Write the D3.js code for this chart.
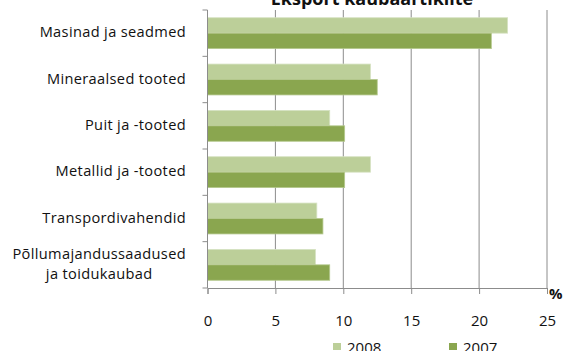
<!DOCTYPE html>
<html>
<head>
<meta charset="utf-8">
<script src="https://cdn.jsdelivr.net/npm/d3@7"></script>
<style>
  body { margin: 0; background: #fff; }
  text { font-family: "Open Sans", "Liberation Sans", sans-serif; fill: #111; }
</style>
</head>
<body>
<div id="chart"></div>
<script>
// categories, top to bottom
const categories = [
    "Masinad ja seadmed",
    "Mineraalsed tooted",
    "Puit ja -tooted",
    "Metallid ja -tooted",
    "Transpordivahendid",
    "Põllumajandussaadused|ja toidukaubad"
];
const seriesNames = ["2008", "2007"];
const values2008 = [22.1, 12.0, 9.0, 12.0, 8.05, 7.95];
const values2007 = [20.9, 12.5, 10.1, 10.1, 8.5, 9.0];
const xTicks = [0, 5, 10, 15, 20, 25];
const colours = ["#bccf99", "#8aa64f"];

const W = 563, H = 351;
const margin = {top: 10, right: 16, bottom: 63, left: 207.5};

const svg = d3.select('#chart').append('svg')
    .attr('width', W)
    .attr('height', H);

// title, mostly cut off at the top of the picture
svg.append('text')
    .attr('x', 372).attr('y', 5)
    .attr('text-anchor', 'middle')
    .attr('font-size', 18).attr('font-weight', 'bold')
    .text('Eksport kaubaartiklite');

const x = d3.scaleLinear()
    .domain([0, 25])
    .range([margin.left, W - margin.right]);

const y0 = d3.scaleBand()
    .domain(categories)
    .range([margin.top, H - margin.bottom]);

const y1 = d3.scaleBand()
    .domain(seriesNames)
    .range([0, y0.bandwidth()])
    .paddingOuter(0.5);

const rows = categories.map((c, i) => ({
    cat: c,
    vals: [values2008[i], values2007[i]]
}));

// vertical gridlines
svg.append('g')
    .selectAll('line')
    .data(xTicks.slice(1))
    .enter().append('line')
        .attr('x1', d => x(d)).attr('x2', d => x(d))
        .attr('y1', margin.top).attr('y2', H - margin.bottom)
        .attr('stroke', '#8c8c8c')
        .attr('stroke-width', 1);

// bars
const groups = svg.append('g')
    .selectAll('g')
    .data(rows)
    .enter().append('g')
        .attr('transform', d => `translate(0, ${y0(d.cat)})`);

groups.selectAll('rect')
    .data(d => d.vals.map((v, i) => ({name: seriesNames[i], v: v, i: i})))
    .enter().append('rect')
        .attr('x', x(0))
        .attr('y', d => y1(d.name))
        .attr('width', d => x(d.v) - x(0))
        .attr('height', y1.bandwidth())
        .attr('fill', d => colours[d.i])
        .attr('stroke', d => d.i === 0 ? '#d6e2c2' : '#b5c98e')
        .attr('stroke-width', 0.8);

// x axis
const xAxis = d3.axisBottom(x)
    .tickValues(xTicks)
    .tickSize(6)
    .tickPadding(21)
    .tickFormat(d3.format('d'));
const gx = svg.append('g')
    .attr('transform', `translate(0, ${H - margin.bottom})`)
    .call(xAxis);
gx.select('.domain').attr('stroke', '#8c8c8c');
gx.selectAll('.tick line').attr('stroke', '#8c8c8c');
gx.selectAll('.tick text')
    .attr('font-size', 15)
    .attr('font-family', '"Liberation Sans", sans-serif')
    .attr('fill', '#111');

// y axis line and boundary ticks
svg.append('line')
    .attr('x1', x(0)).attr('x2', x(0))
    .attr('y1', margin.top).attr('y2', H - margin.bottom)
    .attr('stroke', '#8c8c8c');
const bounds = categories.map(c => y0(c)).concat([y0.range()[1]]);
svg.append('g')
    .selectAll('line')
    .data(bounds)
    .enter().append('line')
        .attr('x1', x(0) - 5).attr('x2', x(0))
        .attr('y1', d => d).attr('y2', d => d)
        .attr('stroke', '#8c8c8c');

// category labels (second line of a wrapped label is centred under the first)
const labelRight = 186;
const labels = svg.append('g')
    .selectAll('text')
    .data(categories)
    .enter().append('text')
        .attr('font-size', 14.6)
        .attr('letter-spacing', 0.35)
        .attr('transform', d => `translate(0, ${y0(d) + y0.bandwidth() / 2 - 1})`);
labels.each(function(d) {
    const parts = d.split('|');
    const t = d3.select(this);
    const first = t.append('tspan')
        .attr('x', labelRight)
        .attr('text-anchor', 'end')
        .attr('dy', parts.length > 1 ? '-0.3em' : '0.35em')
        .text(parts[0]);
    if (parts.length > 1) {
        const w = first.node().getComputedTextLength();
        t.append('tspan')
            .attr('x', labelRight - w / 2)
            .attr('text-anchor', 'middle')
            .attr('dy', '1.35em')
            .text(parts[1]);
    }
});

// unit label
svg.append('text')
    .attr('x', 549).attr('y', 299)
    .attr('font-size', 15).attr('font-weight', 'bold')
    .text('%');

// legend
const legend = svg.append('g')
    .selectAll('g')
    .data(seriesNames)
    .enter().append('g')
        .attr('transform', (_, i) => `translate(${333 + i * 116}, 343)`);
legend.append('rect')
    .attr('width', 8).attr('height', 7)
    .attr('fill', (_, i) => colours[i]);
legend.append('text')
    .attr('x', 14).attr('y', 10)
    .attr('font-size', 15)
    .attr('font-family', '"Liberation Sans", sans-serif')
    .text(d => d);
</script>
</body>
</html>
